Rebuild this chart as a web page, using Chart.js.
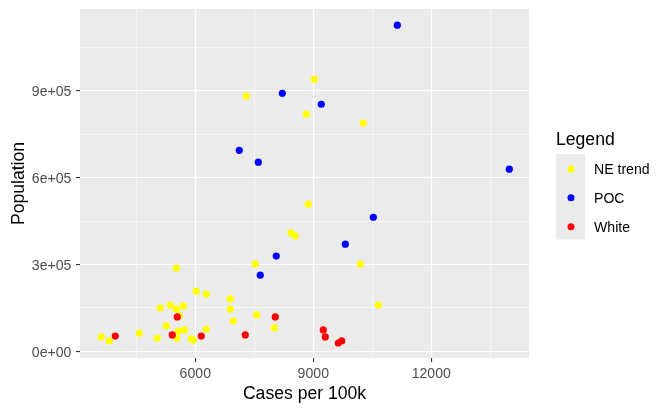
<!DOCTYPE html>
<html>
<head>
<meta charset="utf-8">
<script src="https://cdn.jsdelivr.net/npm/chart.js@4.4.1/dist/chart.umd.min.js"></script>
<style>
  html, body { margin: 0; padding: 0; background: #fff; }
  #wrap { width: 670px; height: 414px; }
</style>
</head>
<body>
<div id="wrap"><canvas id="chart" width="670" height="414"></canvas></div>
<script>
// values
const neX = [9025, 7297, 8822, 10271, 8873, 8433, 8542, 7525, 10195, 5517,
             6025, 6279, 6890, 6890, 10653, 5110, 5364, 5517, 5695, 5593,
             7560, 6966, 8008, 5262, 5568, 5720, 6279, 5527, 5898, 5949,
             5034, 4576, 3610, 3813];
const neY = [939000, 881000, 819000, 788000, 508000, 409000, 398000, 301000, 301000, 288000,
             208000, 198000, 181000, 146000, 160000, 150000, 160000, 146000, 157000, 123000,
             126000, 105000, 81000, 88000, 70000, 74000, 77000, 46000, 43000, 39000,
             46000, 63000, 50000, 36000];

const pocX = [11136, 8212, 9203, 7118, 7602, 13983, 10526, 9814, 8059, 7652];
const pocY = [1126000, 891000, 853000, 694000, 653000, 629000, 463000, 370000, 329000, 263000];

const whiteX = [8034, 7271, 9254, 9305, 9636, 9722, 5542, 5415, 6152, 3966];
const whiteY = [119000, 57000, 74000, 50000, 29000, 36000, 119000, 57000, 53000, 53000];

const groupNames = ['NE trend', 'POC', 'White'];
const groupColors = ['#FFFF00', '#0000FF', '#FF0000'];

const xMajor = [6000, 9000, 12000];
const xMajorLabels = ['6000', '9000', '12000'];
const xMinor = [4500, 7500, 10500, 13500];
const yMajor = [0, 300000, 600000, 900000];
const yMajorLabels = ['0e+00', '3e+05', '6e+05', '9e+05'];
const yMinor = [150000, 450000, 750000, 1050000];

const FONT = '"Liberation Sans", Arial, sans-serif';

function pts(xs, ys) {
  return xs.map((x, i) => ({ x: x, y: ys[i] }));
}

function setTicks(major, minor) {
  return function (axis) {
    axis.ticks = major.concat(minor).sort((a, b) => a - b).map(v => ({ value: v }));
  };
}

function isMajor(list, v) { return list.indexOf(v) !== -1; }

// no extra room for half labels, the panel is placed by hand
function noPad(s) {
  s.paddingTop = 0;
  s.paddingBottom = 0;
  s.paddingLeft = 0;
  s.paddingRight = 0;
}

// grey panel behind the grid
const panelBg = {
  id: 'panelBg',
  beforeDraw(chart) {
    const a = chart.chartArea, c = chart.ctx;
    c.save();
    c.fillStyle = '#EBEBEB';
    c.fillRect(a.left, a.top, a.right - a.left, a.bottom - a.top);
    c.restore();
  }
};

// ggplot-like legend on the right
const sideLegend = {
  id: 'sideLegend',
  afterDraw(chart) {
    const c = chart.ctx;
    c.save();
    c.fillStyle = '#000';
    c.font = '17.6px ' + FONT;
    c.textBaseline = 'alphabetic';
    c.textAlign = 'left';
    c.fillText('Legend', 556, 145);

    c.fillStyle = '#EBEBEB';
    c.fillRect(556, 154, 29, 85.5);

    const rowY = [169, 197.7, 226.7];
    c.font = '14.1px ' + FONT;
    chart.data.datasets.forEach((ds, i) => {
      c.beginPath();
      c.arc(571, rowY[i], 3.5, 0, Math.PI * 2);
      c.fillStyle = ds.backgroundColor;
      c.fill();
      c.fillStyle = '#000';
      c.fillText(ds.label, 594, rowY[i] + 5.2);
    });
    c.restore();
  }
};

const ctx = document.getElementById('chart').getContext('2d');

new Chart(ctx, {
  type: 'scatter',
  data: {
    datasets: [
      { label: groupNames[0], data: pts(neX, neY), backgroundColor: groupColors[0], order: 3 },
      { label: groupNames[1], data: pts(pocX, pocY), backgroundColor: groupColors[1], order: 2 },
      { label: groupNames[2], data: pts(whiteX, whiteY), backgroundColor: groupColors[2], order: 1 }
    ]
  },
  options: {
    responsive: false,
    animation: false,
    devicePixelRatio: 1,
    layout: { autoPadding: false, padding: { left: 0, top: 9, right: 141, bottom: 0 } },
    elements: {
      point: { radius: 3.6, borderWidth: 0, hoverRadius: 3.6 }
    },
    plugins: {
      legend: { display: false },
      tooltip: { enabled: false }
    },
    scales: {
      x: {
        type: 'linear',
        min: 3069,
        max: 14484,
        afterBuildTicks: setTicks(xMajor, xMinor),
        afterFit(s) { s.height = 56; noPad(s); },
        border: { display: false },
        grid: {
          color: '#FFFFFF',
          lineWidth: c => isMajor(xMajor, c.tick.value) ? 1.1 : 0.55,
          tickColor: c => isMajor(xMajor, c.tick.value) ? '#333333' : 'rgba(0,0,0,0)',
          tickWidth: 1.1,
          tickLength: 4
        },
        ticks: {
          autoSkip: false,
          maxRotation: 0,
          padding: 3.6,
          color: '#4D4D4D',
          font: { family: FONT, size: 14.1 },
          callback: v => {
            const k = xMajor.indexOf(v);
            return k === -1 ? '' : xMajorLabels[k];
          }
        },
        title: {
          display: true,
          text: 'Cases per 100k',
          color: '#000',
          font: { family: FONT, size: 17.6 },
          padding: { top: 0, bottom: 9.6 }
        }
      },
      y: {
        type: 'linear',
        min: -22760,
        max: 1181700,
        afterBuildTicks: setTicks(yMajor, yMinor),
        afterFit(s) { s.width = 80; noPad(s); },
        border: { display: false },
        grid: {
          color: '#FFFFFF',
          lineWidth: c => isMajor(yMajor, c.tick.value) ? 1.1 : 0.55,
          tickColor: c => isMajor(yMajor, c.tick.value) ? '#333333' : 'rgba(0,0,0,0)',
          tickWidth: 1.1,
          tickLength: 4
        },
        ticks: {
          autoSkip: false,
          padding: 4.6,
          labelOffset: 1.5,
          color: '#4D4D4D',
          font: { family: FONT, size: 14.1 },
          callback: v => {
            const k = yMajor.indexOf(v);
            return k === -1 ? '' : yMajorLabels[k];
          }
        },
        title: {
          display: true,
          text: 'Population',
          color: '#000',
          font: { family: FONT, size: 17.6 },
          padding: { top: 8.2, bottom: 0 }
        }
      }
    }
  },
  plugins: [panelBg, sideLegend]
});
</script>
</body>
</html>
